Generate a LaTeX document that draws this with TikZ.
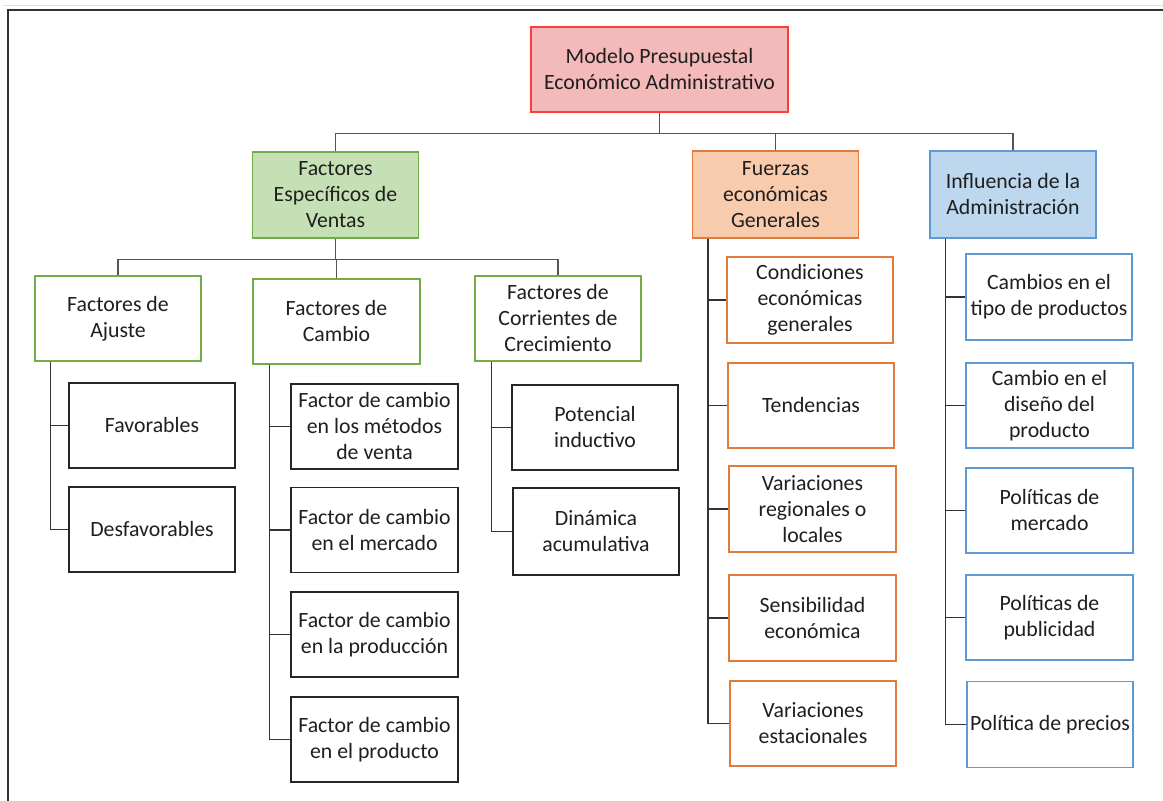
\documentclass[tikz,border=0pt]{standalone}
\usepackage{fontspec}
\setmainfont{Carlito}
\definecolor{txt}{HTML}{1F1F1F}
\definecolor{rootfill}{HTML}{F4B9B9}
\definecolor{rootdraw}{HTML}{FF3B3B}
\definecolor{grnfill}{HTML}{C5E0B4}
\definecolor{grndraw}{HTML}{70AD47}
\definecolor{orgfill}{HTML}{F8CBAD}
\definecolor{orgdraw}{HTML}{E07B39}
\definecolor{blufill}{HTML}{BDD7EE}
\definecolor{bludraw}{HTML}{5B9BD5}
\definecolor{conn}{HTML}{555555}
\definecolor{kconn}{HTML}{333333}
\begin{document}
\begin{tikzpicture}[x=1pt,y=-1pt,
  box/.style={draw, line width=1.3pt, align=center, text=txt, inner sep=1pt,
    font=\fontsize{21.8}{26}\selectfont, minimum width=166pt, minimum height=85pt},
  rootbox/.style={box, fill=rootfill, draw=rootdraw, minimum width=257pt},
  gbox/.style={box, fill=grnfill, draw=grndraw},
  obox/.style={box, fill=orgfill, draw=orgdraw},
  bbox/.style={box, fill=blufill, draw=bludraw},
  gwbox/.style={box, fill=white, draw=grndraw},
  kbox/.style={box, fill=white, draw=black!85},
  owbox/.style={box, fill=white, draw=orgdraw},
  bwbox/.style={box, fill=white, draw=bludraw},
  tree/.style={draw=conn, line width=1.6pt},
  ktree/.style={draw=kconn, line width=1.6pt}]
\useasboundingbox (0,0) rectangle (1163,801);
\fill[white] (0,0) rectangle (1163,801);
% frame
\draw[black!12, line width=1.2pt] (3,5.5) -- (1163,5.5);
\draw[black!80, line width=1.3pt] (8,801) -- (8,10) -- (1163,10);

% root
\node[rootbox] (root) at (659.5,69.5) {Modelo Presupuestal\\Económico Administrativo};
% level 2
\node[gbox, minimum height=86pt] (fev) at (335.5,195) {Factores\\Específicos de\\Ventas};
\node[obox, minimum height=87pt] (feg) at (775.5,194.5) {Fuerzas\\económicas\\Generales};
\node[bbox, minimum height=87pt] (ia) at (1013,194.5) {Influencia de la\\Administración};
% level 3
\node[gwbox] (fa) at (118,318.5) {Factores de\\Ajuste};
\node[gwbox, minimum width=167pt] (fc) at (336.5,321.5) {Factores de\\Cambio};
\node[gwbox] (fcc) at (558,318.5) {Factores de\\Corrientes de\\Crecimiento};
% under FA
\node[kbox] (fav) at (152,425.5) {Favorables};
\node[kbox] (des) at (152,529.5) {Desfavorables};
% under FC
\node[kbox, minimum width=167pt] (fc1) at (374.5,426.5) {Factor de cambio\\en los métodos\\de venta};
\node[kbox, minimum width=167pt] (fc2) at (374.5,530) {Factor de cambio\\en el mercado};
\node[kbox, minimum width=167pt] (fc3) at (374.5,634.5) {Factor de cambio\\en la producción};
\node[kbox, minimum width=167pt] (fc4) at (374.5,739.5) {Factor de cambio\\en el producto};
% under FCC
\node[kbox] (fcc1) at (595,427.5) {Potencial\\inductivo};
\node[kbox, minimum height=87pt] (fcc2) at (596,531.5) {Dinámica\\acumulativa};
% under FEG
\node[owbox, minimum height=86pt] (eg1) at (810,300) {Condiciones\\económicas\\generales};
\node[owbox] (eg2) at (811,405.5) {Tendencias};
\node[owbox, minimum width=167pt, minimum height=86pt] (eg3) at (812.5,509) {Variaciones\\regionales o\\locales};
\node[owbox, minimum width=167pt, minimum height=86pt] (eg4) at (812.5,618) {Sensibilidad\\económica};
\node[owbox] (eg5) at (813,723.5) {Variaciones\\estacionales};
% under IA
\node[bwbox, minimum height=86pt] (ia1) at (1049,297) {Cambios en el\\tipo de productos};
\node[bwbox, minimum width=167pt] (ia2) at (1049.5,405.5) {Cambio en el\\diseño del\\producto};
\node[bwbox, minimum width=167pt] (ia3) at (1049.5,510.5) {Políticas de\\mercado};
\node[bwbox, minimum width=167pt] (ia4) at (1049.5,617.5) {Políticas de\\publicidad};
\node[bwbox, minimum height=86pt] (ia5) at (1050,724.5) {Política de precios};

% tree connectors
\draw[tree] (root.south) -- ++(0,21) coordinate (b1);
\draw[tree] (fev.north) |- (b1) -| (ia.north);
\draw[tree] (b1) -| (feg.north);
\draw[tree] (fev.south) -- ++(0,21) coordinate (b2);
\draw[tree] (fa.north) |- (b2) -| (fcc.north);
\draw[tree] (b2) -| (fc.north);

% child connectors
\draw[ktree] ([xshift=16pt]fa.south west) |- (des.west);
\draw[ktree] ([xshift=16pt]fa.south west) |- (fav.west);
\draw[ktree] ([xshift=17pt]fc.south west) |- (fc4.west);
\foreach \n in {fc1,fc2,fc3} \draw[ktree] ([xshift=17pt]fc.south west) |- (\n.west);
\draw[ktree] ([xshift=17pt]fcc.south west) |- (fcc2.west);
\draw[ktree] ([xshift=17pt]fcc.south west) |- (fcc1.west);
\foreach \n in {eg1,eg2,eg3,eg4,eg5} \draw[ktree] ([xshift=16pt]feg.south west) |- (\n.west);
\foreach \n in {ia1,ia2,ia3,ia4,ia5} \draw[ktree] ([xshift=16pt]ia.south west) |- (\n.west);
\end{tikzpicture}
\end{document}
